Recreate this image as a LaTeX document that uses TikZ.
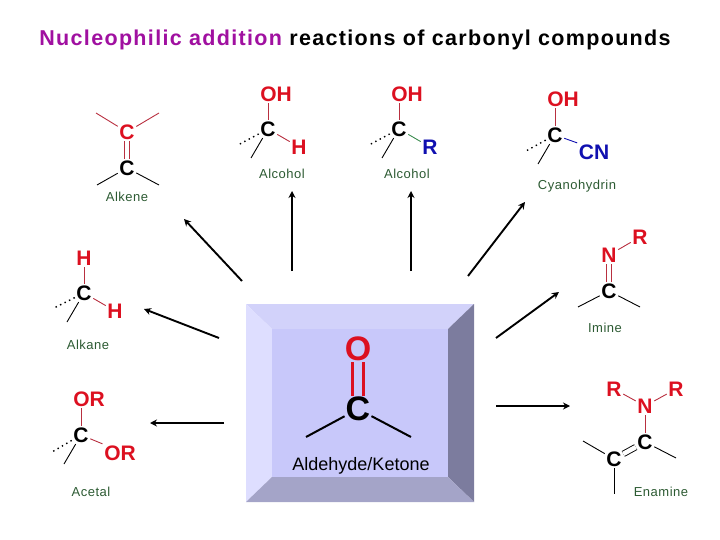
\documentclass[tikz,border=0pt]{standalone}
\usepackage{fontspec}
\setmainfont{Liberation Sans}
\newfontfamily\spacedfont[LetterSpace=4]{Liberation Sans}
\newfontfamily\titlefont[LetterSpace=6.2]{Liberation Sans}
\usetikzlibrary{arrows.meta,positioning}
\definecolor{atomred}{HTML}{DC1020}
\definecolor{bondred}{HTML}{B83040}
\definecolor{atomblue}{HTML}{1010B0}
\definecolor{bondgreen}{HTML}{3C8C50}
\definecolor{labelgreen}{HTML}{2C5A32}
\definecolor{titlepurple}{HTML}{A010A0}
\definecolor{facemid}{HTML}{C8C8FA}
\definecolor{facetop}{HTML}{D2D2FA}
\definecolor{faceleft}{HTML}{DEDEFF}
\definecolor{faceright}{HTML}{7C7C9E}
\definecolor{facebottom}{HTML}{A4A4C8}

\begin{document}
\begin{tikzpicture}[
  x=1pt, y=-1pt, >=Stealth, on grid, inner sep=1.5pt,
  atom/.style={font=\fontsize{21}{21}\bfseries\selectfont},
  redatom/.style={atom, text=atomred},
  blueatom/.style={atom, text=atomblue},
  bigatom/.style={font=\fontsize{34}{34}\bfseries\selectfont, inner sep=1pt},
  product/.style={font=\spacedfont\fontsize{13}{15}\selectfont, text=labelgreen},
  bond/.style={line width=0.9pt},
  twobond/.style={line width=0.9pt, double, double distance=4.6pt},
  back/.style={line width=1.4pt, dash pattern=on 1.4pt off 3.6pt},
  react/.style={line width=1.9pt, -{Stealth[length=7pt,width=7pt]}}]
  \useasboundingbox (0,0) rectangle (720,540);

  \node[font=\titlefont\bfseries\fontsize{21.5}{26}\selectfont] (title) at (355,40)
    {\textcolor{titlepurple}{Nucleophilic addition} reactions of carbonyl compounds};

  % bevelled panel
  \coordinate (outerA) at (246,304);
  \coordinate (outerB) at (474,304);
  \coordinate (outerC) at (474,502);
  \coordinate (outerD) at (246,502);
  \coordinate (innerA) at (272,329);
  \coordinate (innerB) at (448,329);
  \coordinate (innerC) at (448,477);
  \coordinate (innerD) at (272,477);
  \fill[facetop] (outerA) -- (outerB) -- (innerB) -- (innerA) -- cycle;
  \fill[faceleft] (outerA) -- (innerA) -- (innerD) -- (outerD) -- cycle;
  \fill[faceright] (outerB) -- (outerC) -- (innerC) -- (innerB) -- cycle;
  \fill[facebottom] (outerD) -- (innerD) -- (innerC) -- (outerC) -- cycle;
  \fill[facemid] (innerA) rectangle (innerC);

  % aldehyde/ketone
  \node[bigatom, text=atomred] (carbO) at (358,349) {O};
  \node[bigatom, below=60pt of carbO] (carbC) {C};
  \coordinate[below left=28pt and 52pt of carbC] (carbL);
  \coordinate[below right=28pt and 53pt of carbC] (carbR);
  \draw[atomred, line width=2.6pt, double=facemid, double distance=8pt] (carbO) -- (carbC);
  \draw[line width=2pt] (carbC) -- (carbL);
  \draw[line width=2pt] (carbC) -- (carbR);
  \node[font=\fontsize{18}{20}\selectfont] (carbname) at (361,466) {Aldehyde/Ketone};

  % alkene
  \node[redatom] (alkeneT) at (127,132) {C};
  \node[atom, below=36pt of alkeneT] (alkeneB) {C};
  \coordinate[above left=19pt and 31pt of alkeneT] (alkeneTL);
  \coordinate[above right=19pt and 32pt of alkeneT] (alkeneTR);
  \coordinate[below left=17pt and 30pt of alkeneB] (alkeneBL);
  \coordinate[below right=17pt and 32pt of alkeneB] (alkeneBR);
  \draw[bondred, twobond] (alkeneT) -- (alkeneB);
  \draw[bondred, bond] (alkeneT) -- (alkeneTL);
  \draw[bondred, bond] (alkeneT) -- (alkeneTR);
  \draw[bond] (alkeneB) -- (alkeneBL);
  \draw[bond] (alkeneB) -- (alkeneBR);
  \node[product] (alkenename) at (127,197) {Alkene};

  % alcohol, H
  \node[atom] (alcAC) at (268,129) {C};
  \node[redatom, above right=35pt and 8pt of alcAC] (alcAO) {OH};
  \node[redatom, below right=18pt and 31pt of alcAC] (alcAH) {H};
  \coordinate[below left=16pt and 30pt of alcAC] (alcAD);
  \coordinate[below left=29pt and 17pt of alcAC] (alcAS);
  \draw[bondred, bond] (alcAC) -- (alcAO.south -| alcAC);
  \draw[bondred, bond] (alcAC) -- (alcAH);
  \draw[back] (alcAC) -- (alcAD);
  \draw[bond] (alcAC) -- (alcAS);
  \node[product] (alcAname) at (282,174) {Alcohol};

  % alcohol, R
  \node[atom] (alcBC) at (399,129) {C};
  \node[redatom, above right=35pt and 8pt of alcBC] (alcBO) {OH};
  \node[blueatom, below right=18pt and 31pt of alcBC] (alcBR) {R};
  \coordinate[below left=16pt and 30pt of alcBC] (alcBD);
  \coordinate[below left=29pt and 17pt of alcBC] (alcBS);
  \draw[bondred, bond] (alcBC) -- (alcBO.south -| alcBC);
  \draw[bondgreen, bond] (alcBC) -- (alcBR);
  \draw[back] (alcBC) -- (alcBD);
  \draw[bond] (alcBC) -- (alcBS);
  \node[product] (alcBname) at (407,174) {Alcohol};

  % cyanohydrin
  \node[atom] (cyanC) at (555,135) {C};
  \node[redatom, above right=36pt and 8pt of cyanC] (cyanO) {OH};
  \node[blueatom, below right=17pt and 39pt of cyanC] (cyanN) {CN};
  \coordinate[below left=16pt and 29pt of cyanC] (cyanD);
  \coordinate[below left=29pt and 17pt of cyanC] (cyanS);
  \draw[bondred, bond] (cyanC) -- (cyanO.south -| cyanC);
  \draw[atomblue, bond] (cyanC) -- (cyanN.north west);
  \draw[back] (cyanC) -- (cyanD);
  \draw[bond] (cyanC) -- (cyanS);
  \node[product] (cyanname) at (577,186) {Cyanohydrin};

  % imine
  \node[atom] (imineC) at (609,291) {C};
  \node[redatom, above=36pt of imineC] (imineN) {N};
  \node[redatom, above right=18pt and 31pt of imineN] (imineR) {R};
  \coordinate[below left=16pt and 31pt of imineC] (imineL);
  \coordinate[below right=16pt and 31pt of imineC] (imineM);
  \draw[bondred, twobond] (imineC) -- (imineN);
  \draw[bondred, bond] (imineN) -- (imineR);
  \draw[bond] (imineC) -- (imineL);
  \draw[bond] (imineC) -- (imineM);
  \node[product] (iminename) at (605,328) {Imine};

  % alkane
  \node[atom] (alkaneC) at (84,293) {C};
  \node[redatom, above=35pt of alkaneC] (alkaneH) {H};
  \node[redatom, below right=18pt and 31pt of alkaneC] (alkaneI) {H};
  \coordinate[below left=15pt and 30pt of alkaneC] (alkaneD);
  \coordinate[below left=29pt and 17pt of alkaneC] (alkaneS);
  \draw[bondred, bond] (alkaneC) -- (alkaneH);
  \draw[bondred, bond] (alkaneC) -- (alkaneI);
  \draw[back] (alkaneC) -- (alkaneD);
  \draw[bond] (alkaneC) -- (alkaneS);
  \node[product] (alkanename) at (88,345) {Alkane};

  % acetal
  \node[atom] (acetC) at (81,435) {C};
  \node[redatom, above right=36pt and 8pt of acetC] (acetO) {OR};
  \node[redatom, below right=18pt and 39pt of acetC] (acetP) {OR};
  \coordinate[below left=17pt and 29pt of acetC] (acetD);
  \coordinate[below left=29pt and 17pt of acetC] (acetS);
  \draw[bondred, bond] (acetC) -- (acetO.south -| acetC);
  \draw[bondred, bond] (acetC) -- (acetP.north west);
  \draw[back] (acetC) -- (acetD);
  \draw[bond] (acetC) -- (acetS);
  \node[product] (acetname) at (91,492) {Acetal};

  % enamine
  \node[atom] (enamA) at (645,442) {C};
  \node[atom, below left=17pt and 31pt of enamA] (enamB) {C};
  \node[redatom, above=36pt of enamA] (enamN) {N};
  \node[redatom, above left=17pt and 31pt of enamN] (enamP) {R};
  \node[redatom, above right=17pt and 31pt of enamN] (enamQ) {R};
  \coordinate[above left=18pt and 31pt of enamB] (enamL);
  \coordinate[below=35pt of enamB] (enamS);
  \coordinate[below right=16pt and 31pt of enamA] (enamM);
  \draw[twobond] (enamA) -- (enamB);
  \draw[bondred, bond] (enamA) -- (enamN);
  \draw[bondred, bond] (enamN) -- (enamP);
  \draw[bondred, bond] (enamN) -- (enamQ);
  \draw[bond] (enamB) -- (enamL);
  \draw[bond] (enamB) -- (enamS);
  \draw[bond] (enamA) -- (enamM);
  \node[product] (enamname) at (661,492) {Enamine};

  % reaction arrows
  \coordinate (toAlkeneS) at (242,281);
  \coordinate (toAlkeneE) at (184,219);
  \coordinate (toAlcAS) at (292,271);
  \coordinate (toAlcAE) at (292,191);
  \coordinate (toAlcBS) at (411,271);
  \coordinate (toAlcBE) at (411,191);
  \coordinate (toCyanS) at (468,276);
  \coordinate (toCyanE) at (525,202);
  \coordinate (toImineS) at (496,338);
  \coordinate (toImineE) at (559,292);
  \coordinate (toEnamS) at (496,406);
  \coordinate (toEnamE) at (570,406);
  \coordinate (toAcetS) at (224,423);
  \coordinate (toAcetE) at (150,423);
  \coordinate (toAlkaneS) at (219,338);
  \coordinate (toAlkaneE) at (144,309);
  \draw[react] (toAlkeneS) -- (toAlkeneE);
  \draw[react] (toAlcAS) -- (toAlcAE);
  \draw[react] (toAlcBS) -- (toAlcBE);
  \draw[react] (toCyanS) -- (toCyanE);
  \draw[react] (toImineS) -- (toImineE);
  \draw[react] (toEnamS) -- (toEnamE);
  \draw[react] (toAcetS) -- (toAcetE);
  \draw[react] (toAlkaneS) -- (toAlkaneE);
\end{tikzpicture}
\end{document}
